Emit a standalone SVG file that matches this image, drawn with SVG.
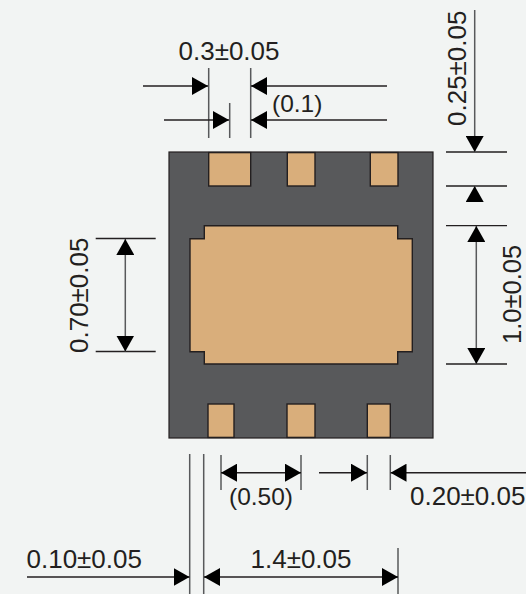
<svg xmlns="http://www.w3.org/2000/svg" width="526" height="594" viewBox="0 0 526 594">
<style>
.body{fill:#58595b;stroke:#231f20;stroke-width:1.2}
.pad{fill:#d9ae7b;stroke:#231f20;stroke-width:1.4}
.ext{stroke:#58595b;stroke-width:1.5;fill:none}
.extk{stroke:#231f20;stroke-width:1.3;fill:none}
.dim{stroke:#231f20;stroke-width:1.4;fill:none}
.dimv{stroke:#58595b;stroke-width:1.5;fill:none}
.head{fill:#000}
text{font-family:"Liberation Sans",Arial,sans-serif;font-size:26px;fill:#231f20}
text.p{font-size:24.5px}
text.s{font-size:25.5px}
</style>
<defs>
<marker id="a" markerUnits="userSpaceOnUse" markerWidth="16" markerHeight="18" refX="16" refY="9" orient="auto-start-reverse"><path class="head" d="M0 0L16 9L0 18Z"/></marker>
</defs>
<rect width="526" height="594" fill="#f2f4f3"/>
<g id="package">
<rect class="body" x="169" y="152" width="264" height="286"/>
</g>
<g id="pads-top">
<rect class="pad" x="208.7" y="152.6" width="42" height="33.4"/>
<rect class="pad" x="287.3" y="152.6" width="27.7" height="33.4"/>
<rect class="pad" x="370.3" y="152.6" width="27.7" height="33.4"/>
</g>
<g id="pad-center">
<path class="pad" d="M204.3 225.7H397.7V238.7H412.3V351.7H397.7V364H204.3V351.7H190V238.7H204.3Z"/>
</g>
<g id="pads-bottom">
<rect class="pad" x="208" y="404" width="26" height="33.4"/>
<rect class="pad" x="287" y="404" width="28" height="33.4"/>
<rect class="pad" x="367.3" y="404" width="23" height="33.4"/>
</g>
<g id="connectors">
<path class="ext" d="M208.7 68V138M229.7 103V138M250.7 68V138"/>
<path class="ext" d="M189.7 454V594M203.7 454V594M221 455V490M301 455V490M367.3 455V490M390.3 455V490M398 548V594"/>
<path class="extk" d="M446 152H507M446 186H507M446 225.7H507M446 364H507M95.7 238.5H155.7M95.7 351.5H155.7"/>
<path class="dim" marker-end="url(#a)" d="M143 86H208"/>
<path class="dim" marker-end="url(#a)" d="M387 86H251"/>
<path class="dim" marker-end="url(#a)" d="M164 120H229"/>
<path class="dim" marker-end="url(#a)" d="M387 120H251"/>
<path class="dimv" marker-end="url(#a)" d="M474.7 10V152"/>
<path class="dimv" marker-end="url(#a)" d="M474.7 202V186"/>
<path class="dimv" marker-start="url(#a)" marker-end="url(#a)" d="M476.3 226V364"/>
<path class="dimv" marker-start="url(#a)" marker-end="url(#a)" d="M125.3 239V351.5"/>
<path class="dim" marker-start="url(#a)" marker-end="url(#a)" d="M221 472.7H301"/>
<path class="dim" marker-end="url(#a)" d="M319 472.7H367"/>
<path class="dim" marker-end="url(#a)" d="M526 472.7H390.5"/>
<path class="dim" marker-end="url(#a)" d="M27 577H189.5"/>
<path class="dim" marker-start="url(#a)" marker-end="url(#a)" d="M204 577H398"/>
</g>
<g id="labels">
<text x="178.5" y="60">0.3±0.05</text>
<text class="p" x="272" y="112">(0.1)</text>
<text class="p" x="229" y="505">(0.50)</text>
<text x="410" y="505">0.20±0.05</text>
<text x="250.5" y="568">1.4±0.05</text>
<text x="26.5" y="568">0.10±0.05</text>
<text transform="translate(466 126) rotate(-90)">0.25±0.05</text>
<text transform="translate(88 353) rotate(-90)">0.70±0.05</text>
<text class="s" transform="translate(520.5 344) rotate(-90)">1.0±0.05</text>
</g>
</svg>
